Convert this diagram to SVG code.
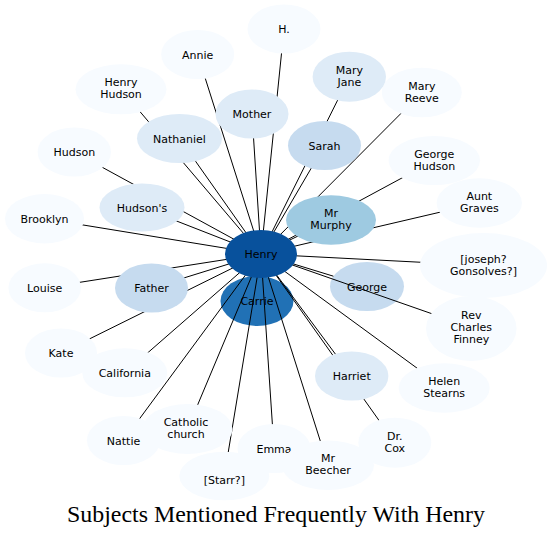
<svg xmlns="http://www.w3.org/2000/svg" width="552" height="536" viewBox="0 0 552 536">
<style>
text{font-family:"DejaVu Sans",Verdana,sans-serif;font-size:11px;fill:#000;text-anchor:middle}
.title{font-family:"Liberation Serif","Times New Roman",serif;font-size:23.9px}
.c0{fill:#f7fbff}.c1{fill:#deebf7}.c2{fill:#c6dbef}.c3{fill:#9ecae1}.c6{fill:#2171b5}.c7{fill:#08519c}
#edges line{stroke:#000;stroke-width:1}
</style>
<rect width="552" height="536" fill="#fff"/>
<g id="n-carrie"><ellipse class="c6" cx="257" cy="301" rx="36.5" ry="25"/><text x="257" y="304.5">Carrie</text></g>
<g id="n-george"><ellipse class="c2" cx="367" cy="286.5" rx="37" ry="24.5"/><text x="367" y="290.5">George</text></g>
<g id="edges">
<line x1="261" y1="254" x2="197.7" y2="54.5"/>
<line x1="261" y1="254" x2="284" y2="29"/>
<line x1="261" y1="254" x2="121" y2="89.3"/>
<line x1="261" y1="254" x2="179.5" y2="138.5"/>
<line x1="261" y1="254" x2="252" y2="114"/>
<line x1="261" y1="254" x2="349.3" y2="76.7"/>
<line x1="261" y1="254" x2="324.5" y2="145.5"/>
<line x1="261" y1="254" x2="421.8" y2="92.5"/>
<line x1="261" y1="254" x2="434.3" y2="160.5"/>
<line x1="261" y1="254" x2="331" y2="220"/>
<line x1="261" y1="254" x2="479.3" y2="203"/>
<line x1="261" y1="254" x2="74.3" y2="152"/>
<line x1="261" y1="254" x2="142" y2="207.5"/>
<line x1="261" y1="254" x2="44.5" y2="218.7"/>
<line x1="261" y1="254" x2="44.7" y2="287.8"/>
<line x1="261" y1="254" x2="151.5" y2="288"/>
<line x1="261" y1="254" x2="61" y2="353"/>
<line x1="261" y1="254" x2="124.8" y2="372.8"/>
<line x1="261" y1="254" x2="123.5" y2="440.5"/>
<line x1="261" y1="254" x2="187.5" y2="429"/>
<line x1="261" y1="254" x2="224.3" y2="476"/>
<line x1="261" y1="254" x2="274" y2="448.5"/>
<line x1="261" y1="254" x2="328" y2="465.3"/>
<line x1="261" y1="254" x2="351.7" y2="376"/>
<line x1="261" y1="254" x2="394.8" y2="442.7"/>
<line x1="261" y1="254" x2="444.2" y2="388"/>
<line x1="261" y1="254" x2="471.3" y2="327.5"/>
<line x1="261" y1="254" x2="483.5" y2="265.5"/>
<line x1="261" y1="254" x2="333.4" y2="276.2"/>
</g>
<g id="n-henry"><ellipse class="c7" cx="261" cy="254" rx="36" ry="24"/><text x="261" y="258">Henry</text></g>
<g id="n-h"><ellipse class="c0" cx="284" cy="29" rx="36.5" ry="24.5"/><text x="284" y="33">H.</text></g>
<g id="n-annie"><ellipse class="c0" cx="197.7" cy="54.5" rx="36.5" ry="24.5"/><text x="197.7" y="58.5">Annie</text></g>
<g id="n-maryreeve"><ellipse class="c0" cx="421.8" cy="92.5" rx="40" ry="24.8"/><text x="421.8" y="89.5">Mary</text><text x="421.8" y="101.5">Reeve</text></g>
<g id="n-maryjane"><ellipse class="c1" cx="349.3" cy="76.7" rx="36.7" ry="25"/><text x="349.3" y="73.7">Mary</text><text x="349.3" y="85.7">Jane</text></g>
<g id="n-henryhudson"><ellipse class="c0" cx="121" cy="89.3" rx="45.5" ry="25"/><text x="121" y="86.3">Henry</text><text x="121" y="98.3">Hudson</text></g>
<g id="n-mother"><ellipse class="c1" cx="252" cy="114" rx="36.5" ry="24.5"/><text x="252" y="118">Mother</text></g>
<g id="n-nathaniel"><ellipse class="c1" cx="179.5" cy="138.5" rx="42.5" ry="24.5"/><text x="179.5" y="142.5">Nathaniel</text></g>
<g id="n-sarah"><ellipse class="c2" cx="324.5" cy="145.5" rx="36.5" ry="24.5"/><text x="324.5" y="149.5">Sarah</text></g>
<g id="n-hudson"><ellipse class="c0" cx="74.3" cy="152" rx="36.7" ry="24.5"/><text x="74.3" y="156">Hudson</text></g>
<g id="n-georgehudson"><ellipse class="c0" cx="434.3" cy="160.5" rx="45.7" ry="24.5"/><text x="434.3" y="157.5">George</text><text x="434.3" y="169.5">Hudson</text></g>
<g id="n-auntgraves"><ellipse class="c0" cx="479.3" cy="203" rx="42.7" ry="24.7"/><text x="479.3" y="200">Aunt</text><text x="479.3" y="212">Graves</text></g>
<g id="n-hudsons"><ellipse class="c1" cx="142" cy="207.5" rx="42.5" ry="24"/><text x="142" y="211.5">Hudson's</text></g>
<g id="n-murphy"><ellipse class="c3" cx="331" cy="220" rx="45" ry="24.7"/><text x="331" y="217">Mr</text><text x="331" y="229">Murphy</text></g>
<g id="n-brooklyn"><ellipse class="c0" cx="44.5" cy="218.7" rx="39.5" ry="24.7"/><text x="44.5" y="222.7">Brooklyn</text></g>
<g id="n-joseph"><ellipse class="c0" cx="483.5" cy="265.5" rx="63.5" ry="32.5"/><text x="483.5" y="262.5">[joseph?</text><text x="483.5" y="274.5">Gonsolves?]</text></g>
<g id="n-louise"><ellipse class="c0" cx="44.7" cy="287.8" rx="36.3" ry="24.5"/><text x="44.7" y="291.8">Louise</text></g>
<g id="n-father"><ellipse class="c2" cx="151.5" cy="288" rx="36.5" ry="24.5"/><text x="151.5" y="292">Father</text></g>
<g id="n-finney"><ellipse class="c0" cx="471.3" cy="328.5" rx="45.3" ry="32.5"/><text x="471.3" y="319">Rev</text><text x="471.3" y="331">Charles</text><text x="471.3" y="343">Finney</text></g>
<g id="n-kate"><ellipse class="c0" cx="61" cy="353" rx="36" ry="24.5"/><text x="61" y="357">Kate</text></g>
<g id="n-california"><ellipse class="c0" cx="124.8" cy="372.8" rx="42.5" ry="24.5"/><text x="124.8" y="376.8">California</text></g>
<g id="n-harriet"><ellipse class="c1" cx="351.7" cy="376" rx="36.7" ry="24.5"/><text x="351.7" y="380">Harriet</text></g>
<g id="n-helen"><ellipse class="c0" cx="444.2" cy="388" rx="45.5" ry="24.7"/><text x="444.2" y="385">Helen</text><text x="444.2" y="397">Stearns</text></g>
<g id="n-nattie"><ellipse class="c0" cx="123.5" cy="440.5" rx="36.5" ry="24.5"/><text x="123.5" y="444.5">Nattie</text></g>
<g id="n-catholic"><ellipse class="c0" cx="187.5" cy="429" rx="45" ry="25"/><text x="186" y="426">Catholic</text><text x="186" y="438">church</text></g>
<g id="n-drcox"><ellipse class="c0" cx="394.8" cy="442.7" rx="36.5" ry="25"/><text x="394.8" y="439.7">Dr.</text><text x="394.8" y="451.7">Cox</text></g>
<g id="n-emma"><ellipse class="c0" cx="274" cy="448.5" rx="36.5" ry="24.5"/><text x="274" y="452.5">Emma</text></g>
<g id="n-starr"><ellipse class="c0" cx="224.3" cy="476" rx="45" ry="24.3"/><text x="224.3" y="484">[Starr?]</text></g>
<g id="n-beecher"><ellipse class="c0" cx="328" cy="465.3" rx="46" ry="24.7"/><text x="328" y="462.3">Mr</text><text x="328" y="474.3">Beecher</text></g>
<text class="title" x="276" y="522">Subjects Mentioned Frequently With Henry</text>
</svg>
